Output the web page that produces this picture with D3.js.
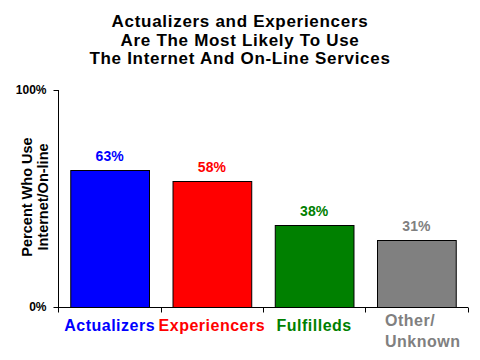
<!DOCTYPE html>
<html><head><meta charset="utf-8">
<script src="https://cdn.jsdelivr.net/npm/d3@7"></script>
<style>body{margin:0;background:#fff}svg{display:block}</style>
</head><body><svg id="c" width="480" height="360"></svg>
<script>
const categories = ["Actualizers", "Experiencers", "Fulfilleds", "Other/Unknown"];
const categoryLines = [["Actualizers"], ["Experiencers"], ["Fulfilleds"], ["Other/", "Unknown"]];
const values = [63, 58, 38, 31];
const colors = ["#0000ff", "#ff0000", "#008000", "#808080"];
const yTicks = [0, 100];
const titleLines = ["Actualizers and Experiencers", "Are The Most Likely To Use", "The Internet And On-Line Services"];
const yTitleLines = ["Percent Who Use", "Internet/On-line"];

const svg = d3.select("#c");
const font = "Arial, 'Liberation Sans', sans-serif";
const x = d3.scaleBand().domain(categories).range([58, 468]).paddingInner(0.23).paddingOuter(0.12);
const y = d3.scaleLinear().domain([0, 100]).range([307, 90]);

// title
svg.append("g").selectAll("text").data(titleLines).join("text")
  .attr("x", 240).attr("y", (d, i) => 27 + i * 18.5)
  .attr("text-anchor", "middle").attr("font-family", font).attr("font-weight", "bold")
  .attr("font-size", 17).attr("letter-spacing", 0.7).text(d => d);

// bars
svg.append("g").selectAll("rect").data(values).join("rect")
  .attr("x", (d, i) => x(categories[i]) + 0.5).attr("y", d => Math.round(y(d)) + 0.5)
  .attr("width", x.bandwidth()).attr("height", d => y(0) - Math.round(y(d)))
  .attr("fill", (d, i) => colors[i]).attr("stroke", "#000").attr("stroke-width", 1);

// value labels
svg.append("g").selectAll("text").data(values).join("text")
  .attr("x", (d, i) => x(categories[i]) + x.bandwidth() / 2)
  .attr("y", d => y(d) - 9)
  .attr("text-anchor", "middle").attr("font-family", font).attr("font-weight", "bold")
  .attr("font-size", 14).attr("fill", (d, i) => colors[i]).text(d => d + "%");

// y axis
const yAxis = d3.axisLeft(y).tickValues(yTicks).tickSize(5).tickFormat(d => d + "%");
const gy = svg.append("g").attr("transform", "translate(58.5,0)").call(yAxis);
gy.select(".domain").attr("d", `M0,${y(100)}V${y(0)}`).attr("stroke", "#000");
gy.selectAll("text").attr("font-family", font).attr("font-weight", "bold").attr("font-size", 12).attr("fill", "#000").attr("x", -12);
gy.selectAll(".tick line").attr("stroke", "#000");

// x axis
const gx = svg.append("g").attr("transform", `translate(0,${y(0) + 0.5})`);
gx.append("line").attr("x1", 58).attr("x2", 468).attr("stroke", "#000");
const bounds = categories.map(c => x(c) - x.step() * x.paddingInner() / 2);
bounds.push(468);
bounds[0] = 58;
gx.selectAll("line.t").data(bounds).join("line").attr("class", "t")
  .attr("x1", d => Math.round(d) + 0.5).attr("x2", d => Math.round(d) + 0.5)
  .attr("y1", 0).attr("y2", 5).attr("stroke", "#000");

// category labels
categoryLines.forEach((lines, i) => {
  const multi = lines.length > 1;
  svg.append("text").attr("text-anchor", multi ? "start" : "middle")
    .attr("font-family", font).attr("font-size", 16).attr("font-weight", "bold")
    .attr("letter-spacing", 0.5)
    .attr("fill", colors[i])
    .selectAll("tspan").data(lines).join("tspan")
    .attr("x", multi ? x(categories[i]) + 8 : x(categories[i]) + x.bandwidth() / 2)
    .attr("y", (d, j) => (multi ? 326 : 331) + j * 21)
    .text(d => d);
});

// y title
svg.append("text").attr("transform", "translate(0,197) rotate(-90)")
  .attr("text-anchor", "middle").attr("font-family", font).attr("font-weight", "bold").attr("font-size", 14.5)
  .selectAll("tspan").data(yTitleLines).join("tspan")
  .attr("x", 0).attr("y", (d, i) => 32 + i * 16).text(d => d);
</script></body></html>
